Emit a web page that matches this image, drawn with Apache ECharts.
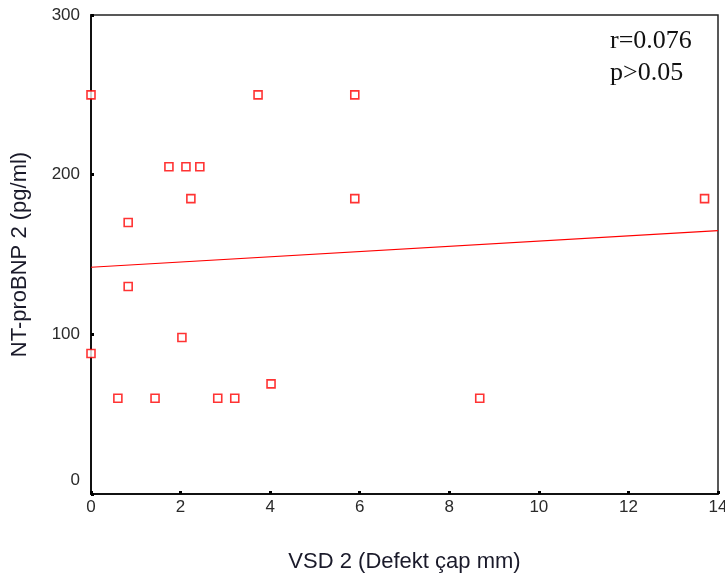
<!DOCTYPE html>
<html><head><meta charset="utf-8">
<script src="https://cdn.jsdelivr.net/npm/echarts@6/dist/echarts.min.js"></script>
<style>html,body{margin:0;padding:0;background:#fff;overflow:hidden}#c{width:725px;height:576px}</style>
</head><body><div id="c"></div>
<script>
var vsd = [0, 0, 0.6, 0.83, 0.83, 1.43, 1.74, 2.03, 2.12, 2.23, 2.43, 2.83, 3.21, 3.73, 4.02, 5.89, 5.89, 8.68, 13.7];
var ntprobnp = [250, 88, 60, 170, 130, 60, 205, 98, 205, 185, 205, 60, 60, 250, 69, 250, 185, 60, 185];
var fitX = [0, 14];
var fitY = [142, 165];
var xTicks = [0, 2, 4, 6, 8, 10, 12, 14];
var yTicks = [0, 100, 200, 300];
var annot = ['r=0.076', 'p>0.05'];

var pts = vsd.map(function (v, i) { return [v, ntprobnp[i]]; });
var fit = fitX.map(function (v, i) { return [v, fitY[i]]; });

var chart = echarts.init(document.getElementById('c'));
chart.setOption({
  animation: false,
  backgroundColor: '#fff',
  grid: { left: 91, right: 7, top: 15, bottom: 82, containLabel: false, outerBoundsMode: 'none',
    show: true, borderColor: '#222', borderWidth: 1.5, backgroundColor: 'transparent' },
  xAxis: {
    type: 'value', min: 0, max: 14, interval: 2,
    name: 'VSD 2 (Defekt çap mm)', nameLocation: 'middle', nameGap: 57,
    nameTextStyle: { fontFamily: 'Liberation Sans', fontSize: 22, color: '#1a1a2a' },
    axisLine: { show: true, lineStyle: { color: '#111', width: 2 } },
    axisTick: { show: true, length: 3, inside: true, lineStyle: { color: '#000', width: 3 } },
    axisLabel: { fontFamily: 'Liberation Sans', fontSize: 17, color: '#2a2a2a', margin: 5, hideOverlap: false,
      formatter: function (v) { return xTicks.indexOf(v) >= 0 ? String(v) : ''; } },
    splitLine: { show: false }
  },
  yAxis: {
    type: 'value', min: 0, max: 300, interval: 100,
    name: 'NT-proBNP 2 (pg/ml)', nameLocation: 'middle', nameGap: 60, nameRotate: 90,
    nameTextStyle: { fontFamily: 'Liberation Sans', fontSize: 22, color: '#1a1a2a' },
    axisLine: { show: true, lineStyle: { color: '#111', width: 2 } },
    axisTick: { show: true, length: 3, inside: true, lineStyle: { color: '#000', width: 3 } },
    axisLabel: { fontFamily: 'Liberation Sans', fontSize: 17, color: '#2a2a2a', margin: 11,
      formatter: function (v) { return yTicks.indexOf(v) >= 0 ? (v === 0 ? '{z|0}' : String(v)) : ''; },
      rich: { z: { fontFamily: 'Liberation Sans', fontSize: 17, color: '#2a2a2a', padding: [0, 0, 28, 0] } } },
    splitLine: { show: false }
  },
  series: [
    {
      type: 'line', data: fit, symbol: 'none',
      lineStyle: { color: '#ff0000', width: 1.2 }, z: 2
    },
    {
      type: 'scatter', data: pts, symbol: 'rect', symbolSize: 8,
      itemStyle: { color: '#fff', borderColor: '#ff0000', borderWidth: 1.6 }, z: 3
    }
  ],
  graphic: [
    { type: 'text', x: 610, y: 41, style: { text: annot[0], font: '26px "Liberation Serif"', fill: '#111', verticalAlign: 'middle' } },
    { type: 'text', x: 610, y: 73, style: { text: annot[1], font: '26px "Liberation Serif"', fill: '#111', verticalAlign: 'middle' } }
  ]
});
</script></body></html>
